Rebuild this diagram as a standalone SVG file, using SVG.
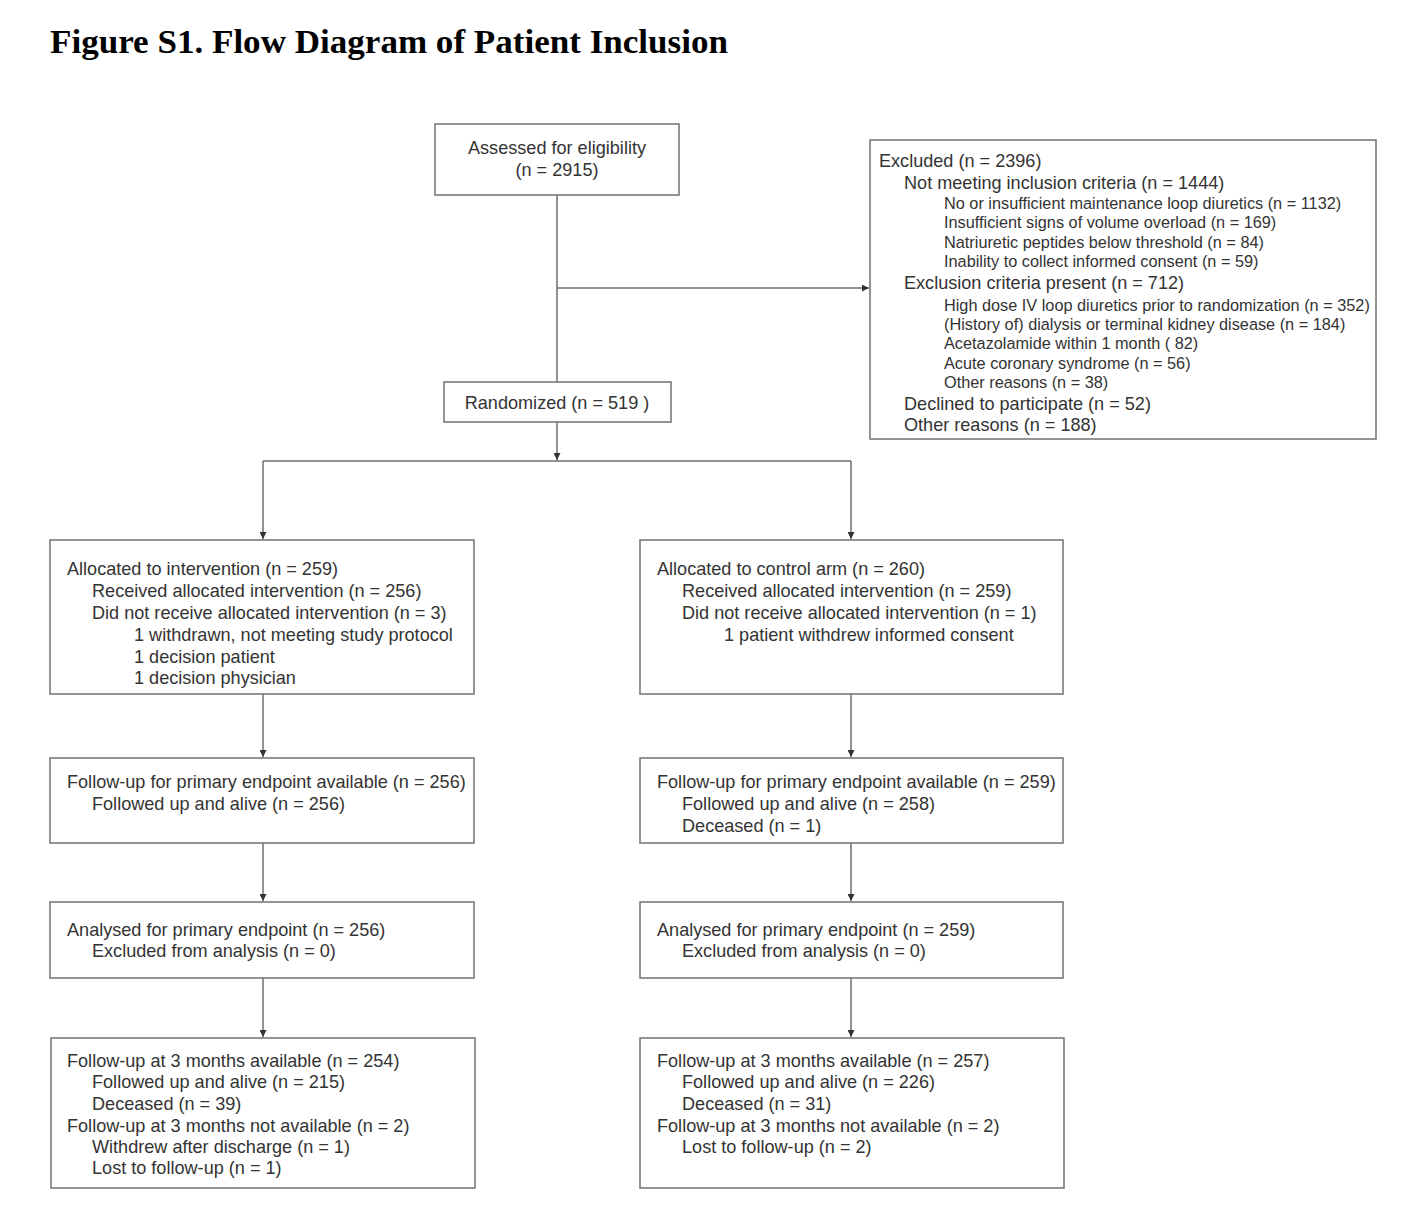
<svg xmlns="http://www.w3.org/2000/svg" width="1421" height="1224" viewBox="0 0 1421 1224">
<style>
.box{fill:#fff;stroke:#7a7a7a;stroke-width:1.6}
.t{font-family:"Liberation Sans",Arial,sans-serif;font-size:18.1px;fill:#333}
.s{font-family:"Liberation Sans",Arial,sans-serif;font-size:16.3px;fill:#333}
.c{text-anchor:middle}
.ln{fill:none;stroke:#6e6e6e;stroke-width:1.5}
.title{font-family:"Liberation Serif","Times New Roman",serif;font-weight:bold;font-size:33px;fill:#000}
</style>
<defs>
<marker id="ah" viewBox="0 0 8 8" refX="8" refY="4" markerWidth="7" markerHeight="7" markerUnits="userSpaceOnUse" orient="auto">
<path d="M0,0 L8,4 L0,8 z" fill="#333"/>
</marker>
</defs>
<rect width="1421" height="1224" fill="#fff"/>
<text class="title" x="50" y="53" textLength="678" lengthAdjust="spacingAndGlyphs">Figure S1. Flow Diagram of Patient Inclusion</text>

<g id="connectors">
<path class="ln" d="M557,195 V382"/>
<path class="ln" d="M557,288 H869" marker-end="url(#ah)"/>
<path class="ln" d="M557,422 V460" marker-end="url(#ah)"/>
<path class="ln" d="M263,461 H851"/>
<path class="ln" d="M263,461 V539" marker-end="url(#ah)"/>
<path class="ln" d="M851,461 V539" marker-end="url(#ah)"/>
<path class="ln" d="M263,694 V757" marker-end="url(#ah)"/>
<path class="ln" d="M851,694 V757" marker-end="url(#ah)"/>
<path class="ln" d="M263,843 V901" marker-end="url(#ah)"/>
<path class="ln" d="M851,843 V901" marker-end="url(#ah)"/>
<path class="ln" d="M263,978 V1037" marker-end="url(#ah)"/>
<path class="ln" d="M851,978 V1037" marker-end="url(#ah)"/>
</g>

<g id="assessed">
<rect class="box" x="435" y="124" width="244" height="71"/>
<text class="t c" x="557" y="154">Assessed for eligibility</text>
<text class="t c" x="557" y="176">(n = 2915)</text>
</g>

<g id="excluded">
<rect class="box" x="870" y="140" width="506" height="299"/>
<text class="t" x="879" y="167">Excluded (n = 2396)</text>
<text class="t" x="904" y="189">Not meeting inclusion criteria (n = 1444)</text>
<text class="s" x="944" y="209">No or insufficient maintenance loop diuretics (n = 1132)</text>
<text class="s" x="944" y="228">Insufficient signs of volume overload (n = 169)</text>
<text class="s" x="944" y="248">Natriuretic peptides below threshold (n = 84)</text>
<text class="s" x="944" y="267">Inability to collect informed consent (n = 59)</text>
<text class="t" x="904" y="289">Exclusion criteria present (n = 712)</text>
<text class="s" x="944" y="311">High dose IV loop diuretics prior to randomization (n = 352)</text>
<text class="s" x="944" y="330">(History of) dialysis or terminal kidney disease (n = 184)</text>
<text class="s" x="944" y="349">Acetazolamide within 1 month ( 82)</text>
<text class="s" x="944" y="369">Acute coronary syndrome (n = 56)</text>
<text class="s" x="944" y="388">Other reasons (n = 38)</text>
<text class="t" x="904" y="410">Declined to participate (n = 52)</text>
<text class="t" x="904" y="431">Other reasons (n = 188)</text>
</g>

<g id="randomized">
<rect class="box" x="444" y="382" width="227" height="40"/>
<text class="t c" x="557" y="409">Randomized (n = 519 )</text>
</g>

<g id="alloc-int">
<rect class="box" x="50" y="540" width="424" height="154"/>
<text class="t" x="67" y="575">Allocated to intervention (n = 259)</text>
<text class="t" x="92" y="597">Received allocated intervention (n = 256)</text>
<text class="t" x="92" y="619">Did not receive allocated intervention (n = 3)</text>
<text class="t" x="134" y="641">1 withdrawn, not meeting study protocol</text>
<text class="t" x="134" y="663">1 decision patient</text>
<text class="t" x="134" y="684">1 decision physician</text>
</g>

<g id="alloc-ctrl">
<rect class="box" x="640" y="540" width="423" height="154"/>
<text class="t" x="657" y="575">Allocated to control arm (n = 260)</text>
<text class="t" x="682" y="597">Received allocated intervention (n = 259)</text>
<text class="t" x="682" y="619">Did not receive allocated intervention (n = 1)</text>
<text class="t" x="724" y="641">1 patient withdrew informed consent</text>
</g>

<g id="fu-int">
<rect class="box" x="50" y="758" width="424" height="85"/>
<text class="t" x="67" y="788">Follow-up for primary endpoint available (n = 256)</text>
<text class="t" x="92" y="810">Followed up and alive (n = 256)</text>
</g>

<g id="fu-ctrl">
<rect class="box" x="640" y="758" width="423" height="85"/>
<text class="t" x="657" y="788">Follow-up for primary endpoint available (n = 259)</text>
<text class="t" x="682" y="810">Followed up and alive (n = 258)</text>
<text class="t" x="682" y="832">Deceased (n = 1)</text>
</g>

<g id="an-int">
<rect class="box" x="50" y="902" width="424" height="76"/>
<text class="t" x="67" y="936">Analysed for primary endpoint (n = 256)</text>
<text class="t" x="92" y="957">Excluded from analysis (n = 0)</text>
</g>

<g id="an-ctrl">
<rect class="box" x="640" y="902" width="423" height="76"/>
<text class="t" x="657" y="936">Analysed for primary endpoint (n = 259)</text>
<text class="t" x="682" y="957">Excluded from analysis (n = 0)</text>
</g>

<g id="fu3-int">
<rect class="box" x="51" y="1038" width="424" height="150"/>
<text class="t" x="67" y="1067">Follow-up at 3 months available (n = 254)</text>
<text class="t" x="92" y="1088">Followed up and alive (n = 215)</text>
<text class="t" x="92" y="1110">Deceased (n = 39)</text>
<text class="t" x="67" y="1132">Follow-up at 3 months not available (n = 2)</text>
<text class="t" x="92" y="1153">Withdrew after discharge (n = 1)</text>
<text class="t" x="92" y="1174">Lost to follow-up (n = 1)</text>
</g>

<g id="fu3-ctrl">
<rect class="box" x="640" y="1038" width="424" height="150"/>
<text class="t" x="657" y="1067">Follow-up at 3 months available (n = 257)</text>
<text class="t" x="682" y="1088">Followed up and alive (n = 226)</text>
<text class="t" x="682" y="1110">Deceased (n = 31)</text>
<text class="t" x="657" y="1132">Follow-up at 3 months not available (n = 2)</text>
<text class="t" x="682" y="1153">Lost to follow-up (n = 2)</text>
</g>
</svg>
